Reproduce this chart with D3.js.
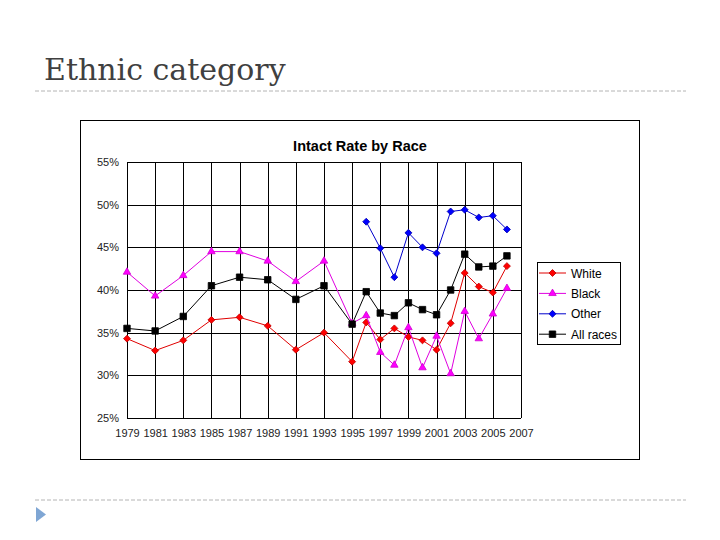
<!DOCTYPE html>
<html>
<head>
<meta charset="utf-8">
<script src="https://cdn.jsdelivr.net/npm/d3@7"></script>
<style>
  body { margin: 0; background: #fff; }
  svg text { font-family: Arial, "Liberation Sans", sans-serif; }
</style>
</head>
<body>
<div id="chart"></div>
<script>
const years = d3.range(1979, 2007);
const white = [34.3, null, 32.9, null, 34.1, null, 36.5, null, 36.8, null, 35.8, null, 33.0, null, 35.0, null,
  31.6, 36.2, 34.2, 35.5, 34.5, 34.1, 33.0, 36.1, 42.0, 40.4, 39.7, 42.8];
const black = [42.1, null, 39.3, null, 41.7, null, 44.5, null, 44.5, null, 43.4, null, 41.0, null, 43.4, null,
  36.1, 37.0, 32.7, 31.2, 35.6, 30.9, 34.6, 30.2, 37.5, 34.3, 37.2, 40.2];
const other = [null, null, null, null, null, null, null, null, null, null, null, null, null, null, null, null,
  null, 48.0, 44.9, 41.5, 46.7, 45.0, 44.3, 49.2, 49.4, 48.5, 48.7, 47.1];
const allRaces = [35.5, null, 35.2, null, 36.9, null, 40.5, null, 41.5, null, 41.2, null, 38.9, null, 40.5, null,
  36.0, 39.8, 37.3, 37.0, 38.5, 37.7, 37.1, 40.0, 44.2, 42.7, 42.8, 44.0];
const seriesNames = ["White", "Black", "Other", "All races"];
const yTicks = [25, 30, 35, 40, 45, 50, 55];
const xTicks = d3.range(1979, 2008, 2);

const series = [
  { name: seriesNames[0], values: white, line: "#e00000", fill: "#ff0000", stroke: "#c00000", shape: "diamond" },
  { name: seriesNames[1], values: black, line: "#e000e0", fill: "#ff00ff", stroke: "#d000d0", shape: "triangle" },
  { name: seriesNames[2], values: other, line: "#0000cc", fill: "#0000ff", stroke: "#0000b0", shape: "diamond" },
  { name: seriesNames[3], values: allRaces, line: "#000000", fill: "#000000", stroke: "#000000", shape: "square" }
];

const svg = d3.select("#chart").append("svg")
  .attr("width", 720)
  .attr("height", 540);

// slide header
svg.append("text")
  .attr("x", 44)
  .attr("y", 80)
  .style("font-family", "'DejaVu Serif', serif")
  .style("font-size", "30px")
  .attr("fill", "#404040")
  .text("Ethnic category");

[91, 500].forEach(y => {
  svg.append("line")
    .attr("x1", 35).attr("x2", 686)
    .attr("y1", y).attr("y2", y)
    .attr("stroke", "#b4b4b4")
    .attr("stroke-dasharray", "4 2");
});

svg.append("path")
  .attr("d", "M36,507 L36,522 L46,514.5 Z")
  .attr("fill", "#7fa6d4");

// chart frame
svg.append("rect")
  .attr("x", 80.5).attr("y", 120.5)
  .attr("width", 559).attr("height", 339)
  .attr("fill", "#fff")
  .attr("stroke", "#000");

svg.append("text")
  .attr("x", 360)
  .attr("y", 151)
  .attr("text-anchor", "middle")
  .style("font-size", "14.5px")
  .style("font-weight", "bold")
  .text("Intact Rate by Race");

const x = d3.scaleLinear().domain([1979, 2007]).range([127, 521]);
const y = d3.scaleLinear().domain([25, 55]).range([418, 162]);

// gridlines
const grid = svg.append("g");
grid.selectAll(".hg")
  .data(yTicks)
  .join("line")
  .attr("x1", x(1979)).attr("x2", x(2007))
  .attr("y1", d => Math.round(y(d)) + 0.5)
  .attr("y2", d => Math.round(y(d)) + 0.5)
  .attr("stroke", "#000");
grid.selectAll(".vg")
  .data(xTicks)
  .join("line")
  .attr("x1", d => Math.round(x(d)) + 0.5)
  .attr("x2", d => Math.round(x(d)) + 0.5)
  .attr("y1", y(55)).attr("y2", y(25))
  .attr("stroke", "#000");

// axes (labels only)
const yAxis = svg.append("g")
  .attr("transform", `translate(${x(1979)},0)`)
  .call(d3.axisLeft(y).tickValues(yTicks).tickSize(0).tickPadding(8).tickFormat(d => d + "%"));
const xAxis = svg.append("g")
  .attr("transform", `translate(0,${y(25)})`)
  .call(d3.axisBottom(x).tickValues(xTicks).tickSize(0).tickPadding(11).tickFormat(d => String(d)));
[yAxis, xAxis].forEach(a => {
  a.select(".domain").remove();
  a.selectAll("text")
    .style("font-size", "11px")
    .style("font-family", "Arial, 'Liberation Sans', sans-serif")
    .attr("fill", "#222");
});

const symbolFor = shape => {
  if (shape === "triangle") return d3.symbol(d3.symbolTriangle, 24)();
  if (shape === "square") return d3.symbol(d3.symbolSquare, 42)();
  return d3.symbol(d3.symbolSquare, 24)();
};

const lineGen = d3.line()
  .x(d => x(d.year))
  .y(d => y(d.value));

series.forEach(s => {
  const pts = years.map((yr, i) => ({ year: yr, value: s.values[i] }))
    .filter(d => d.value !== null);

  svg.append("path")
    .datum(pts)
    .attr("d", lineGen)
    .attr("fill", "none")
    .attr("stroke", s.line)
    .attr("stroke-width", 1);

  svg.append("g").selectAll("path")
    .data(pts)
    .join("path")
    .attr("d", symbolFor(s.shape))
    .attr("transform", d => `translate(${x(d.year)},${y(d.value)})` + (s.shape === "diamond" ? " rotate(45)" : ""))
    .attr("fill", s.fill)
    .attr("stroke", s.stroke)
    .attr("stroke-width", 0.8);
});

// legend
const legend = svg.append("g").attr("transform", "translate(537,262)");
legend.append("rect")
  .attr("x", 0.5).attr("y", 0.5)
  .attr("width", 83).attr("height", 82)
  .attr("fill", "#fff")
  .attr("stroke", "#000");

series.forEach((s, i) => {
  const cy = 11 + i * 20.4;
  const row = legend.append("g").attr("transform", `translate(0,${cy})`);
  row.append("line")
    .attr("x1", 2).attr("x2", 29)
    .attr("stroke", s.line);
  row.append("path")
    .attr("d", symbolFor(s.shape))
    .attr("transform", "translate(15.5,0)" + (s.shape === "diamond" ? " rotate(45)" : ""))
    .attr("fill", s.fill)
    .attr("stroke", s.stroke)
    .attr("stroke-width", 0.8);
  row.append("text")
    .attr("x", 34)
    .attr("y", 4.5)
    .style("font-size", "12px")
    .text(s.name);
});
</script>
</body>
</html>
